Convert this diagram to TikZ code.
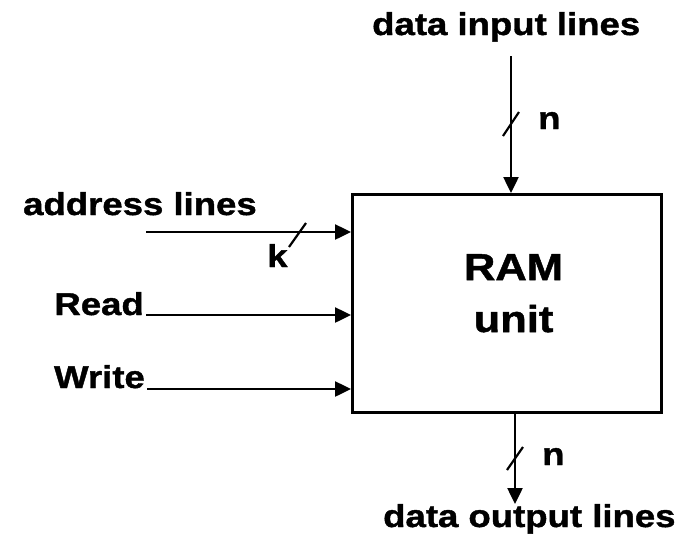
\documentclass[tikz,border=0pt]{standalone}
\usepackage{fontspec}
\setmainfont{Liberation Sans}[FakeStretch=1.16,BoldFeatures={FakeBold=1.3}]
\usetikzlibrary{arrows.meta}
\begin{document}
\begin{tikzpicture}[x=1pt,y=-1pt,
  wire/.style={line width=2.5pt},
  arr/.style={wire,-{Triangle[length=16pt,width=15pt]}},
  slash/.style={line width=2.2pt},
  lbl/.style={inner sep=0pt,font=\fontsize{31.5}{33}\selectfont\bfseries},
  big/.style={inner sep=0pt,font=\fontsize{37.5}{40}\selectfont\bfseries}]
\useasboundingbox (0,0) rectangle (689,539);
\node[draw,wire,minimum width=309pt,minimum height=218pt,inner sep=0pt,anchor=north west] (ram) at (351,193) {};
\node[big,anchor=base] (t1) at (513.5,280) {RAM};
\node[big,anchor=base] (t2) at (513.5,332) {unit};
\node[lbl,anchor=base west] (din) at (372,35) {data input lines};
\node[lbl,anchor=base west] (dout) at (383,527) {data output lines};
\node[lbl,anchor=base west] (addr) at (23,215) {address lines};
\node[lbl,anchor=base east] (rd) at (144,315) {Read};
\node[lbl,anchor=base east] (wr) at (145,388) {Write};
\node[lbl,anchor=base west] (k) at (267,267) {k};
\node[lbl,anchor=base west] (n1) at (538,129) {n};
\node[lbl,anchor=base west] (n2) at (542,465) {n};
\coordinate (dinS) at (511,56);
\coordinate (dinE) at (511,193);
\coordinate (doutS) at (515,411);
\coordinate (doutE) at (515,504);
\coordinate (addrS) at (146,232);
\coordinate (addrE) at (351,232);
\coordinate (rdS) at (146,315);
\coordinate (rdE) at (351,315);
\coordinate (wrS) at (147,389);
\coordinate (wrE) at (351,389);
\draw[arr] (dinS) -- (dinE);
\draw[arr] (doutS) -- (doutE);
\draw[arr] (addrS) -- (addrE);
\draw[arr] (rdS) -- (rdE);
\draw[arr] (wrS) -- (wrE);
\draw[slash] (503,136) -- (519,112);
\draw[slash] (507,470) -- (523,447);
\draw[slash] (289,247) -- (306,223);
\end{tikzpicture}
\end{document}
